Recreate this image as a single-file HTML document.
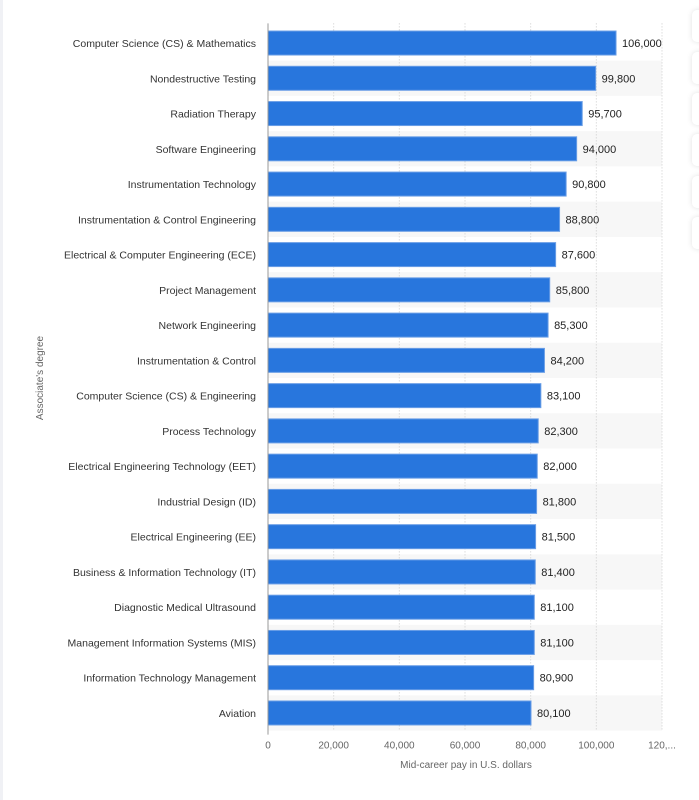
<!DOCTYPE html>
<html><head><meta charset="utf-8"><style>
body{margin:0;width:699px;height:800px;background:#fff;font-family:"Liberation Sans",sans-serif;overflow:hidden;position:relative}
.card{position:absolute;left:692px;width:20px;height:32px;border-radius:5px;background:#fff;box-shadow:0 0 6px rgba(0,0,0,.12)}
</style></head><body>
<div style="position:absolute;left:0;top:0;width:3px;height:800px;background:#f0f1f5"></div>
<div class="card" style="top:10px"></div>
<div class="card" style="top:52px"></div>
<div class="card" style="top:93px"></div>
<div class="card" style="top:134px"></div>
<div class="card" style="top:176px"></div>
<div class="card" style="top:217px"></div>
<svg id="chart" width="699" height="800" style="position:absolute;left:0;top:0"></svg>
<script>
const categories=["Computer Science (CS) & Mathematics","Nondestructive Testing","Radiation Therapy","Software Engineering","Instrumentation Technology","Instrumentation & Control Engineering","Electrical & Computer Engineering (ECE)","Project Management","Network Engineering","Instrumentation & Control","Computer Science (CS) & Engineering","Process Technology","Electrical Engineering Technology (EET)","Industrial Design (ID)","Electrical Engineering (EE)","Business & Information Technology (IT)","Diagnostic Medical Ultrasound","Management Information Systems (MIS)","Information Technology Management","Aviation"];
const values=[106000,99800,95700,94000,90800,88800,87600,85800,85300,84200,83100,82300,82000,81800,81500,81400,81100,81100,80900,80100];
const ticks=[0,20000,40000,60000,80000,100000,120000];
const tickLabels=["0","20,000","40,000","60,000","80,000","100,000","120,..."];
const NS="http://www.w3.org/2000/svg",svg=document.getElementById("chart");
const x0=268,x1=662,maxV=120000,top0=25.4,rowH=35.26;
const xs=v=>x0+(x1-x0)*v/maxV, ys=i=>top0+i*rowH;
function mk(t,a,txt){const e=document.createElementNS(NS,t);for(const k in a)e.setAttribute(k,a[k]);if(txt!=null)e.textContent=txt;svg.appendChild(e);return e;}
const bottom=ys(categories.length);
categories.forEach((c,i)=>{if(i%2==1){const r=mk("rect",{x:x0,y:ys(i),width:x1-x0,height:rowH,fill:"#f7f7f7"});

}});
ticks.forEach((t,i)=>{if(i>0){const g=mk("line",{x1:xs(t),x2:xs(t),y1:top0-2,y2:bottom,stroke:"#ccc","stroke-dasharray":"1,2"});

}
const l=mk("text",{x:xs(t),y:bottom+18,"text-anchor":"middle","font-size":"10",fill:"#666"},tickLabels[i]);

});
categories.forEach((c,i)=>{const cy=ys(i)+rowH/2;
const b=mk("rect",{x:x0,y:cy-12,width:xs(values[i])-x0,height:24,fill:"#2876dd",stroke:"#6a9ee6","stroke-width":"1"});


const lb=mk("text",{x:256,y:cy+4,"text-anchor":"end","font-size":"10.5",fill:"#333"},c);


const v=mk("text",{x:xs(values[i])+6,y:cy+4,"font-size":"11",fill:"#222"},values[i].toLocaleString("en-US"));

});
const ax=mk("line",{x1:x0,x2:x0,y1:top0-2,y2:bottom+4,stroke:"#999"});


const xt=mk("text",{x:466,y:768,"text-anchor":"middle","font-size":"10",fill:"#666"},"Mid-career pay in U.S. dollars");


const yt=mk("text",{x:0,y:0,"text-anchor":"middle","font-size":"10",fill:"#666",transform:"translate(43,378) rotate(-90)"},"Associate's degree");


</script>
</body></html>
